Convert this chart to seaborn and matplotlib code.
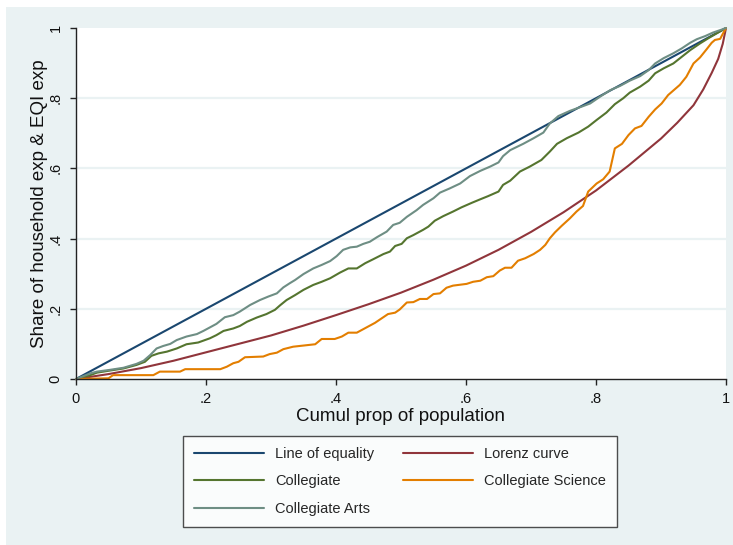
import matplotlib
matplotlib.use("Agg")
import matplotlib.pyplot as plt
from matplotlib.patches import Rectangle
import numpy as np
import pandas as pd
import seaborn as sns

# Cumulative population share (x) and cumulative expenditure share (y)
equality_x = [0, 1]
equality_y = [0, 1]

lorenz_x = [0, .05, .1, .15, .2, .25, .3, .35, .4, .45, .5, .55, .6, .65, .7,
            .75, .8, .85, .9, .925, .95, .965, .978, .988, .995, 1]
lorenz_y = [0, .014, .031, .052, .076, .100, .124, .152, .182, .213, .246, .283,
            .323, .368, .419, .475, .537, .608, .685, .730, .780, .825, .872,
            .912, .955, 1]

collegiate_x = [0, .022, .032, .052, .073, .093, .106, .116, .127, .140, .155, .170,
                .188, .206, .216, .227, .242, .252, .263, .278, .293, .306, .314,
                .324, .337, .350, .365, .378, .391, .406, .419, .432, .445, .457,
                .473, .483, .491, .501, .509, .519, .534, .542, .552, .565, .580,
                .593, .609, .622, .634, .650, .657, .668, .683, .698, .716, .729,
                .740, .755, .773, .788, .801, .816, .829, .842, .852, .868, .881,
                .891, .904, .919, .932, .945, .960, .973, .986, 1]
collegiate_y = [0, .011, .018, .024, .030, .040, .049, .066, .073, .078, .087, .099,
                .104, .116, .125, .137, .144, .151, .163, .175, .185, .197, .210,
                .225, .239, .254, .268, .277, .287, .303, .315, .315, .330, .341,
                .356, .363, .379, .385, .401, .410, .425, .434, .451, .464, .477,
                .489, .502, .512, .521, .534, .553, .565, .591, .605, .624, .648,
                .670, .686, .702, .719, .738, .759, .783, .800, .816, .833, .850,
                .871, .885, .899, .918, .937, .956, .971, .985, 1]

science_x = [0, .050, .057, .119, .129, .160, .168, .222, .232, .242, .250, .260,
             .288, .298, .309, .319, .334, .368, .378, .398, .409, .419, .432, .447,
             .460, .480, .491, .498, .509, .519, .529, .540, .550, .560, .570, .580,
             .601, .611, .622, .632, .642, .652, .660, .670, .680, .691, .704, .714,
             .722, .729, .737, .747, .760, .770, .780, .788, .801, .811, .821, .829,
             .840, .850, .860, .870, .881, .891, .901, .911, .929, .939, .950, .960,
             .970, .978, .983, .991, .995, 1]
science_y = [0, .002, .011, .011, .021, .021, .028, .028, .035, .045, .049, .062,
             .064, .071, .075, .085, .092, .099, .114, .114, .121, .132, .132, .147,
             .160, .185, .189, .198, .218, .219, .228, .228, .242, .244, .260, .266,
             .271, .277, .280, .290, .293, .309, .317, .317, .337, .344, .356, .368,
             .382, .401, .418, .436, .458, .477, .493, .534, .557, .569, .591, .657,
             .670, .695, .714, .721, .747, .768, .785, .809, .838, .861, .899, .916,
             .939, .958, .966, .969, .983, 1]

arts_x = [0, .022, .032, .052, .073, .093, .104, .114, .124, .134, .145, .155, .170,
          .186, .196, .206, .216, .229, .242, .252, .268, .283, .296, .309, .319,
          .329, .337, .350, .365, .378, .391, .401, .411, .422, .432, .442, .452,
          .463, .478, .488, .498, .509, .524, .534, .550, .560, .575, .591, .606,
          .622, .637, .650, .657, .668, .688, .704, .719, .729, .742, .760, .778,
          .791, .806, .822, .837, .852, .868, .881, .891, .904, .919, .932, .945,
          .955, .968, .980, .991, 1]
arts_y = [0, .016, .021, .026, .032, .043, .052, .068, .087, .094, .100, .111, .121,
          .128, .137, .147, .157, .176, .182, .192, .211, .225, .235, .244, .261,
          .273, .282, .299, .315, .325, .336, .350, .368, .375, .377, .385, .391,
          .404, .420, .439, .445, .462, .481, .496, .515, .531, .543, .557, .578,
          .593, .605, .617, .635, .652, .670, .686, .702, .728, .749, .764, .776,
          .785, .804, .823, .835, .850, .863, .880, .899, .914, .928, .942, .958,
          .968, .977, .987, .994, 1]

series_names = ["Line of equality", "Lorenz curve", "Collegiate",
                "Collegiate Science", "Collegiate Arts"]
series_x = [equality_x, lorenz_x, collegiate_x, science_x, arts_x]
series_y = [equality_y, lorenz_y, collegiate_y, science_y, arts_y]
series_colors = ["#1A476F", "#90353B", "#55752F", "#E37E00", "#6E8E84"]

tick_values = [0, .2, .4, .6, .8, 1]
tick_labels = ["0", ".2", ".4", ".6", ".8", "1"]

frames = []
for name, xs, ys in zip(series_names, series_x, series_y):
    assert len(xs) == len(ys), name
    frames.append(pd.DataFrame({"x": xs, "y": ys, "series": name,
                                "order": np.arange(len(xs))}))
df = pd.concat(frames, ignore_index=True)

sns.set_theme(style="white")
plt.rcParams["font.family"] = ["Liberation Sans", "DejaVu Sans"]

W, H = 733, 545
fig = plt.figure(figsize=(W / 100, H / 100), dpi=100, facecolor="white")
fig.patches.append(Rectangle((6 / W, 0), 1 - 6 / W, 1 - 7 / H,
                             transform=fig.transFigure, facecolor="#EAF2F3",
                             edgecolor="none", zorder=-10))

ax = fig.add_axes([76 / W, (H - 379) / H, 650 / W, 351 / H])
ax.set_facecolor("white")

sns.lineplot(data=df, x="x", y="y", hue="series", hue_order=series_names,
             palette=series_colors, estimator=None, sort=False, units="series",
             linewidth=1.5, legend=False, ax=ax)
for ln in ax.get_lines():
    ln.set_clip_on(False)
    ln.set_solid_joinstyle("round")

ax.set_xlim(0, 1)
ax.set_ylim(0, 1)
ax.set_xticks(tick_values)
ax.set_xticklabels(tick_labels)
ax.set_yticks(tick_values)
ax.set_yticklabels(tick_labels)

for v in tick_values[1:-1]:
    ax.axhline(v, color="#EAF2F3", linewidth=1.6, zorder=0)

for side in ["top", "right"]:
    ax.spines[side].set_visible(False)
for side in ["left", "bottom"]:
    ax.spines[side].set_color("#222222")
    ax.spines[side].set_linewidth(1.0)

ax.tick_params(axis="both", direction="out", length=4.5, width=1.0,
               color="#222222", labelsize=10.5, labelcolor="#111111", pad=5,
               left=True, bottom=True)
plt.setp(ax.get_yticklabels(), rotation=90, va="center", ha="right")

ax.set_xlabel("Cumul prop of population", fontsize=13.5, color="#111111",
              labelpad=1)
ax.set_ylabel("Share of household exp & EQI exp", fontsize=13.5,
              color="#111111", labelpad=0.5)

lines = ax.get_lines()
handles = {name: ln for name, ln in zip(series_names, lines[:5])}
legend_order = ["Line of equality", "Collegiate", "Collegiate Arts",
                "Lorenz curve", "Collegiate Science"]
leg = fig.legend([handles[n] for n in legend_order], legend_order,
                 loc="upper left",
                 bbox_to_anchor=(183 / W, 1 - 436 / H),
                 ncol=2, frameon=True, fancybox=False, fontsize=10.5,
                 handlelength=4.8, handletextpad=0.75, columnspacing=1.95,
                 labelspacing=0.9, borderpad=0.78, borderaxespad=0)
leg.get_frame().set_edgecolor("#222222")
leg.get_frame().set_linewidth(1.0)
leg.get_frame().set_facecolor("white")

fig.savefig("out.png", dpi=100, facecolor=fig.get_facecolor())
